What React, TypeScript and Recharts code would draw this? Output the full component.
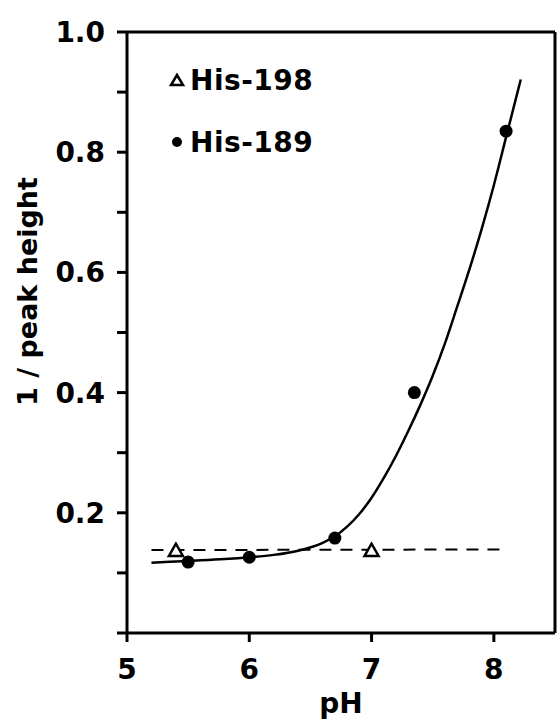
import React from 'react';
import {
  ComposedChart, Line, Scatter, XAxis, YAxis, ReferenceLine, Legend,
} from 'recharts';

const phTicks = [5, 6, 7, 8];
const yTicks = [0, 0.1, 0.2, 0.3, 0.4, 0.5, 0.6, 0.7, 0.8, 0.9, 1.0];
const yLabeled = [0.2, 0.4, 0.6, 0.8, 1.0];

const his198Ph = [5.4, 7.0];
const his198Val = [0.137, 0.137];

const his189Ph = [5.5, 6.0, 6.7, 7.35, 8.1];
const his189Val = [0.118, 0.126, 0.158, 0.4, 0.835];

const fitPh = [5.2, 5.5, 5.8, 6.0, 6.2, 6.4, 6.6, 6.7, 6.8, 6.9, 7.0, 7.1, 7.2, 7.3, 7.4, 7.5, 7.6, 7.7, 7.8, 7.9, 8.0, 8.1, 8.2, 8.22];
const fitVal = [0.117, 0.12, 0.123, 0.126, 0.13, 0.137, 0.15, 0.161, 0.177, 0.198, 0.225, 0.258, 0.295, 0.336, 0.38, 0.428, 0.482, 0.543, 0.605, 0.672, 0.745, 0.825, 0.905, 0.921];

const dashPh = [5.2, 8.1];
const dashVal = [0.138, 0.139];

const his198 = his198Ph.map((ph, i) => ({ ph, v: his198Val[i] }));
const his189 = his189Ph.map((ph, i) => ({ ph, v: his189Val[i] }));
const fit = fitPh.map((ph, i) => ({ ph, v: fitVal[i] }));
const dash = dashPh.map((ph, i) => ({ ph, v: dashVal[i] }));

const FONT = '"DejaVu Sans", sans-serif';

const Triangle = (props: any) => {
  const { cx, cy } = props;
  const s = 7;
  return (
    <polygon
      points={`${cx},${cy - s} ${cx - s},${cy + s * 0.75} ${cx + s},${cy + s * 0.75}`}
      fill="#fff"
      stroke="#000"
      strokeWidth={2.5}
    />
  );
};

const Dot = (props: any) => {
  const { cx, cy } = props;
  return <circle cx={cx} cy={cy} r={6.5} fill="#000" />;
};

const renderLegend = () => (
  <div style={{ fontFamily: FONT, fontWeight: 'bold', fontSize: 28, letterSpacing: 0.5, color: '#000' }}>
    <div style={{ display: 'flex', alignItems: 'center', height: 62 }}>
      <svg width={24} height={20} style={{ marginRight: 1 }}>
        <polygon points="12,5 6,15 18,15" fill="#fff" stroke="#000" strokeWidth={2.5} />
      </svg>
      <span>His-198</span>
    </div>
    <div style={{ display: 'flex', alignItems: 'center', height: 62 }}>
      <svg width={24} height={20} style={{ marginRight: 1 }}>
        <circle cx={12} cy={10} r={5} fill="#000" />
      </svg>
      <span>His-189</span>
    </div>
  </div>
);

const YLabel = (props: any) => {
  const { viewBox } = props;
  const x = viewBox.x + 37;
  const y = viewBox.y + viewBox.height / 2 - 41;
  return (
    <text
      x={x}
      y={y}
      transform={`rotate(-90 ${x} ${y})`}
      textAnchor="middle"
      fontFamily={FONT}
      fontWeight="bold"
      fontSize={27}
      fill="#000"
    >
      1 / peak height
    </text>
  );
};

const XLabel = (props: any) => {
  const { viewBox } = props;
  const x = viewBox.x + viewBox.width / 2;
  const y = viewBox.y + 80;
  return (
    <text x={x} y={y} textAnchor="middle" fontFamily={FONT} fontWeight="bold" fontSize={28} fill="#000">
      pH
    </text>
  );
};

export default function App() {
  return (
    <div style={{ position: 'absolute', left: 0, top: 0, background: '#fff' }}>
      <ComposedChart
        width={559}
        height={725}
        margin={{ top: 32, right: 4, bottom: 0, left: 0 }}
      >
        <XAxis
          dataKey="ph"
          type="number"
          domain={[5, 8.5]}
          ticks={phTicks}
          allowDataOverflow
          height={92}
          tickSize={9}
          tickMargin={17}
          axisLine={{ stroke: '#000', strokeWidth: 3 }}
          tickLine={{ stroke: '#000', strokeWidth: 3 }}
          tick={{ fill: '#000', fontSize: 28, fontWeight: 'bold', fontFamily: FONT }}
          label={<XLabel />}
        />
        <YAxis
          type="number"
          domain={[0, 1]}
          ticks={yTicks}
          allowDataOverflow
          width={127}
          tickSize={10}
          tickMargin={12}
          tickFormatter={(v: number) => (yLabeled.some((t) => Math.abs(t - v) < 1e-6) ? v.toFixed(1) : '')}
          axisLine={{ stroke: '#000', strokeWidth: 3 }}
          tickLine={{ stroke: '#000', strokeWidth: 3 }}
          tick={{ fill: '#000', fontSize: 28, fontWeight: 'bold', fontFamily: FONT }}
          label={<YLabel />}
        />
        <ReferenceLine y={1} stroke="#000" strokeWidth={3} />
        <ReferenceLine x={8.5} stroke="#000" strokeWidth={3} />
        <Line
          data={dash}
          dataKey="v"
          type="linear"
          stroke="#000"
          strokeWidth={2}
          strokeDasharray="12 9"
          dot={false}
          isAnimationActive={false}
          legendType="none"
        />
        <Line
          data={fit}
          dataKey="v"
          type="monotone"
          stroke="#000"
          strokeWidth={2.5}
          dot={false}
          isAnimationActive={false}
          legendType="none"
        />
        <Scatter data={his198} dataKey="v" shape={<Triangle />} isAnimationActive={false} />
        <Scatter data={his189} dataKey="v" shape={<Dot />} isAnimationActive={false} />
        <Legend
          content={renderLegend}
          layout="horizontal"
          align="center"
          verticalAlign="middle"
          wrapperStyle={{ left: 165, top: 49, width: 200 }}
        />
      </ComposedChart>
    </div>
  );
}
